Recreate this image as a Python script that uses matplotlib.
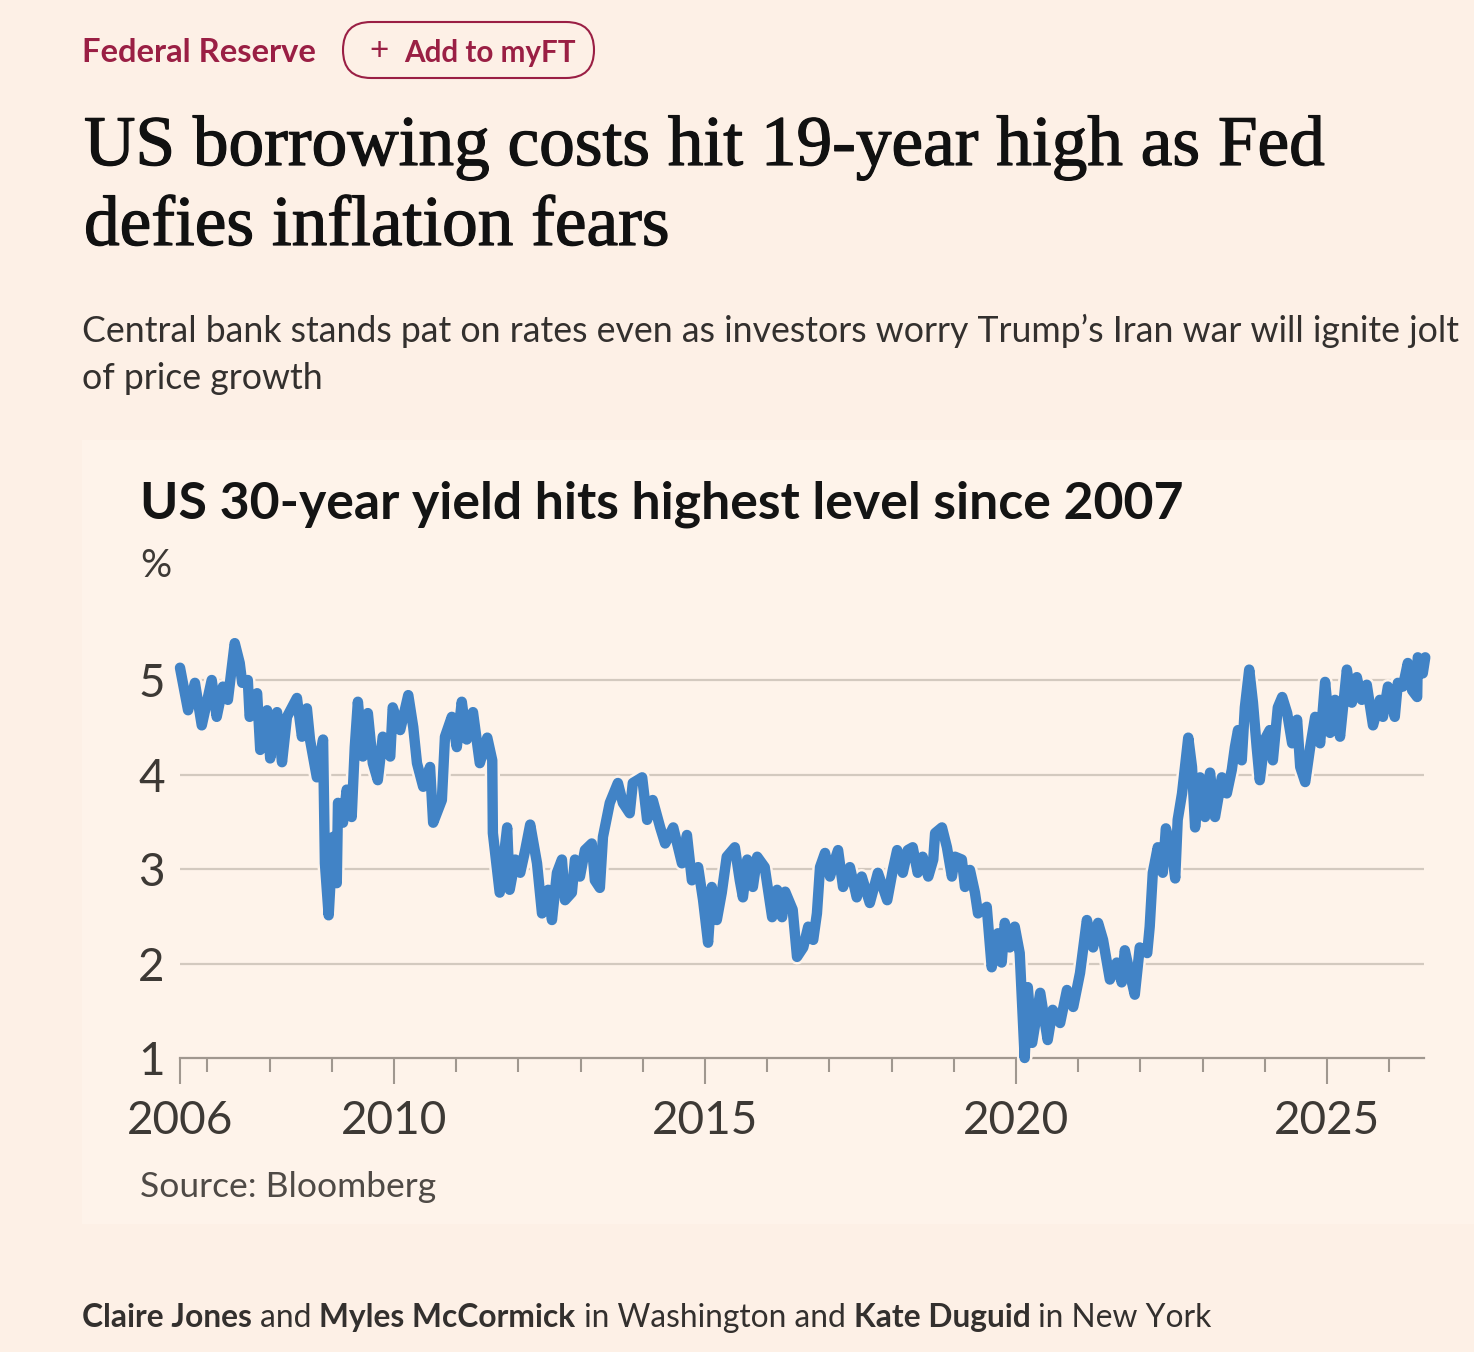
import matplotlib
matplotlib.use("Agg")
import matplotlib.pyplot as plt
import matplotlib.patheffects as pe
from matplotlib.patches import FancyBboxPatch, Rectangle

# US 30-year Treasury yield (decimal year, %)
anos = [
    2006.56, 2006.69, 2006.80, 2006.91, 2007.07, 2007.15, 2007.25, 2007.33, 2007.44, 2007.52,
    2007.56, 2007.65, 2007.68, 2007.80, 2007.85, 2007.96, 2008.01, 2008.12, 2008.20, 2008.28,
    2008.44, 2008.52, 2008.60, 2008.65, 2008.76, 2008.86, 2008.89, 2008.95, 2009.02, 2009.08,
    2009.10, 2009.18, 2009.24, 2009.32, 2009.37, 2009.42, 2009.50, 2009.58, 2009.66, 2009.74,
    2009.82, 2009.94, 2009.98, 2010.10, 2010.23, 2010.31, 2010.37, 2010.47, 2010.58, 2010.63,
    2010.77, 2010.82, 2010.93, 2011.01, 2011.09, 2011.17, 2011.27, 2011.38, 2011.50, 2011.58,
    2011.59, 2011.70, 2011.82, 2011.86, 2011.95, 2012.03, 2012.11, 2012.19, 2012.30, 2012.38,
    2012.48, 2012.54, 2012.62, 2012.70, 2012.75, 2012.86, 2012.91, 2012.99, 2013.07, 2013.18,
    2013.23, 2013.31, 2013.36, 2013.47, 2013.60, 2013.68, 2013.79, 2013.84, 2013.99, 2014.07,
    2014.16, 2014.28, 2014.36, 2014.49, 2014.63, 2014.71, 2014.79, 2014.89, 2014.97, 2015.05,
    2015.11, 2015.19, 2015.27, 2015.35, 2015.48, 2015.56, 2015.61, 2015.68, 2015.77, 2015.84,
    2015.96, 2016.08, 2016.16, 2016.24, 2016.29, 2016.41, 2016.48, 2016.58, 2016.66, 2016.74,
    2016.80, 2016.85, 2016.93, 2017.01, 2017.09, 2017.14, 2017.22, 2017.33, 2017.44, 2017.52,
    2017.65, 2017.78, 2017.93, 2018.02, 2018.09, 2018.18, 2018.26, 2018.34, 2018.42, 2018.50,
    2018.59, 2018.67, 2018.70, 2018.81, 2018.89, 2018.97, 2019.02, 2019.13, 2019.18, 2019.26,
    2019.34, 2019.39, 2019.53, 2019.61, 2019.71, 2019.77, 2019.82, 2019.90, 2019.98, 2020.06,
    2020.14, 2020.19, 2020.26, 2020.39, 2020.51, 2020.59, 2020.71, 2020.82, 2020.92, 2021.03,
    2021.14, 2021.24, 2021.32, 2021.40, 2021.51, 2021.62, 2021.70, 2021.75, 2021.83, 2021.91,
    2021.99, 2022.11, 2022.15, 2022.20, 2022.28, 2022.36, 2022.41, 2022.51, 2022.56, 2022.60,
    2022.67, 2022.77, 2022.83, 2022.88, 2022.96, 2023.04, 2023.12, 2023.20, 2023.31, 2023.39,
    2023.47, 2023.52, 2023.57, 2023.63, 2023.68, 2023.75, 2023.81, 2023.87, 2023.92, 2024.00,
    2024.08, 2024.13, 2024.21, 2024.28, 2024.36, 2024.44, 2024.52, 2024.57, 2024.65, 2024.73,
    2024.81, 2024.89, 2024.97, 2025.05, 2025.13, 2025.21, 2025.32, 2025.40, 2025.48, 2025.56,
    2025.64, 2025.74, 2025.85, 2025.90, 2025.98, 2026.09, 2026.14, 2026.22, 2026.30, 2026.37,
    2026.45, 2026.46, 2026.54, 2026.58,
]
rendimento = [
    5.13, 4.68, 4.97, 4.52, 5.00, 4.61, 4.93, 4.79, 5.39, 5.18,
    4.97, 5.00, 4.61, 4.86, 4.26, 4.68, 4.17, 4.66, 4.13, 4.61,
    4.81, 4.40, 4.70, 4.37, 3.97, 4.37, 3.06, 2.51, 3.34, 2.85,
    3.70, 3.49, 3.84, 3.55, 4.29, 4.77, 4.19, 4.65, 4.12, 3.94,
    4.40, 4.19, 4.71, 4.47, 4.84, 4.50, 4.12, 3.87, 4.08, 3.49,
    3.73, 4.40, 4.61, 4.29, 4.77, 4.37, 4.66, 4.12, 4.39, 4.15,
    3.38, 2.75, 3.44, 2.78, 3.10, 2.96, 3.20, 3.47, 3.06, 2.53,
    2.78, 2.46, 2.96, 3.10, 2.67, 2.75, 3.10, 2.92, 3.20, 3.27,
    2.88, 2.80, 3.34, 3.70, 3.91, 3.70, 3.59, 3.91, 3.97, 3.52,
    3.73, 3.44, 3.27, 3.44, 3.06, 3.36, 2.88, 3.02, 2.67, 2.22,
    2.81, 2.46, 2.75, 3.13, 3.23, 2.88, 2.70, 3.10, 2.81, 3.13,
    3.02, 2.49, 2.78, 2.49, 2.76, 2.57, 2.07, 2.17, 2.39, 2.25,
    2.53, 3.02, 3.17, 2.92, 3.10, 3.20, 2.81, 3.02, 2.70, 2.92,
    2.64, 2.96, 2.67, 2.99, 3.20, 2.96, 3.20, 3.23, 2.96, 3.13,
    2.92, 3.10, 3.38, 3.44, 3.23, 2.92, 3.13, 3.10, 2.81, 2.99,
    2.75, 2.53, 2.60, 1.96, 2.32, 2.01, 2.43, 2.17, 2.39, 2.11,
    1.00, 1.75, 1.16, 1.69, 1.19, 1.51, 1.37, 1.72, 1.54, 1.90,
    2.46, 2.17, 2.43, 2.25, 1.83, 2.01, 1.80, 2.14, 1.90, 1.67,
    2.17, 2.11, 2.39, 2.96, 3.23, 2.96, 3.43, 3.17, 2.90, 3.52,
    3.80, 4.39, 4.08, 3.44, 3.97, 3.55, 4.02, 3.55, 3.97, 3.80,
    4.05, 4.29, 4.47, 4.15, 4.71, 5.11, 4.76, 4.29, 3.94, 4.37,
    4.47, 4.15, 4.71, 4.82, 4.65, 4.33, 4.58, 4.08, 3.92, 4.29,
    4.61, 4.33, 4.98, 4.44, 4.79, 4.40, 5.11, 4.76, 5.03, 4.79,
    4.95, 4.52, 4.79, 4.61, 4.93, 4.61, 4.97, 4.93, 5.18, 4.89,
    4.82, 5.24, 5.07, 5.24,
]

ticks_maiores = [2006.56, 2010, 2015, 2020, 2025]
rotulos_x = ["2006", "2010", "2015", "2020", "2025"]
ticks_menores = [2007, 2008, 2009, 2011, 2012, 2013, 2014, 2016, 2017, 2018, 2019,
                 2021, 2022, 2023, 2024, 2026]
ticks_y = [1, 2, 3, 4, 5]

W, H = 1474, 1352
fundo = "#fdf0e6"
painel = "#fef3ea"
clarete = "#9a1f44"
azul = "#4183c6"
sans = ["Lato", "DejaVu Sans"]
serif = ["Liberation Serif", "DejaVu Serif"]

fig = plt.figure(figsize=(W / 100, H / 100), dpi=100, facecolor=fundo)

# camada de fundo em pixels para textos e caixas
bg = fig.add_axes([0, 0, 1, 1], zorder=0)
bg.set_xlim(0, W)
bg.set_ylim(H, 0)
bg.axis("off")
bg.add_patch(Rectangle((82, 440), W - 82, 784, facecolor=painel, edgecolor="none"))

bg.text(82, 62, "Federal Reserve", fontsize=23.6, fontweight="bold", color=clarete,
        family=sans, va="baseline")
bg.add_patch(FancyBboxPatch((343, 22), 251, 56, boxstyle="round,pad=0,rounding_size=28",
                            facecolor="none", edgecolor=clarete, linewidth=1.5))
bg.text(379, 51, "+", fontsize=24, color=clarete, family=sans, ha="center", va="center")
bg.text(404, 62, "Add to myFT", fontsize=21.3, fontweight="bold", color=clarete,
        family=sans, va="baseline")

# manchete um pouco mais encorpada
grosso = [pe.withStroke(linewidth=0.9, foreground="#111111")]
bg.text(84, 165, "US borrowing costs hit 19-year high as Fed", fontsize=51.3, color="#111111",
        family=serif, va="baseline", path_effects=grosso)
bg.text(84, 245, "defies inflation fears", fontsize=51.3, color="#111111",
        family=serif, va="baseline", path_effects=grosso)

bg.text(82, 342, "Central bank stands pat on rates even as investors worry Trump\u2019s Iran war will ignite jolt",
        fontsize=25.7, color="#33302e", family=sans, va="baseline")
bg.text(82, 389, "of price growth", fontsize=25.7, color="#33302e", family=sans, va="baseline")

bg.text(140, 518, "US 30-year yield hits highest level since 2007", fontsize=37.3, fontweight="bold",
        color="#141414", family=sans, va="baseline")
bg.text(140, 577, "%", fontsize=28, color="#3d3935", family=sans, va="baseline")
bg.text(140, 1197, "Source: Bloomberg", fontsize=25.5, color="#4f4a46", family=sans, va="baseline")

# linha de autores com partes em negrito
renderer = fig.canvas.get_renderer()
x = 82
for parte, peso in [("Claire Jones", "bold"), (" and ", "normal"), ("Myles McCormick", "bold"),
                    (" in Washington and ", "normal"), ("Kate Duguid", "bold"),
                    (" in New York", "normal")]:
    t = bg.text(x, 1327, parte, fontsize=22.9, fontweight=peso, color="#33302e",
                family=sans, va="baseline")
    x = t.get_window_extent(renderer).x1

# grafico
ax = fig.add_axes([180 / W, 1 - 1058 / H, (1424 - 180) / W, (1058 - 632.75) / H], zorder=1)
ax.set_facecolor("none")
ax.set_xlim(2006.56, 2026.56)
ax.set_ylim(1, 5.5)
for v in ticks_y[1:]:
    ax.axhline(v, color="#d3c9bf", lw=1.6, zorder=1)
ax.plot(anos, rendimento, color=azul, lw=7.5, solid_joinstyle="round", solid_capstyle="round",
        clip_on=False, zorder=3,
        path_effects=[pe.Stroke(linewidth=11, foreground=painel), pe.Normal()])

for lado in ["top", "right", "left"]:
    ax.spines[lado].set_visible(False)
ax.spines["bottom"].set_color("#a0978f")
ax.spines["bottom"].set_linewidth(1.6)

ax.set_xticks(ticks_maiores)
ax.set_xticklabels(rotulos_x)
ax.set_xticks(ticks_menores, minor=True)
ax.tick_params(axis="x", which="major", length=19, width=1.5, color="#a0978f", pad=11,
               labelsize=33, labelcolor="#3d3935")
ax.tick_params(axis="x", which="minor", length=10, width=1.5, color="#a0978f")
ax.set_yticks(ticks_y)
ax.tick_params(axis="y", length=0, pad=11, labelsize=33, labelcolor="#3d3935")
for lbl in ax.get_xticklabels() + ax.get_yticklabels():
    lbl.set_family(sans)

fig.savefig("out.png", dpi=100, facecolor=fundo)
